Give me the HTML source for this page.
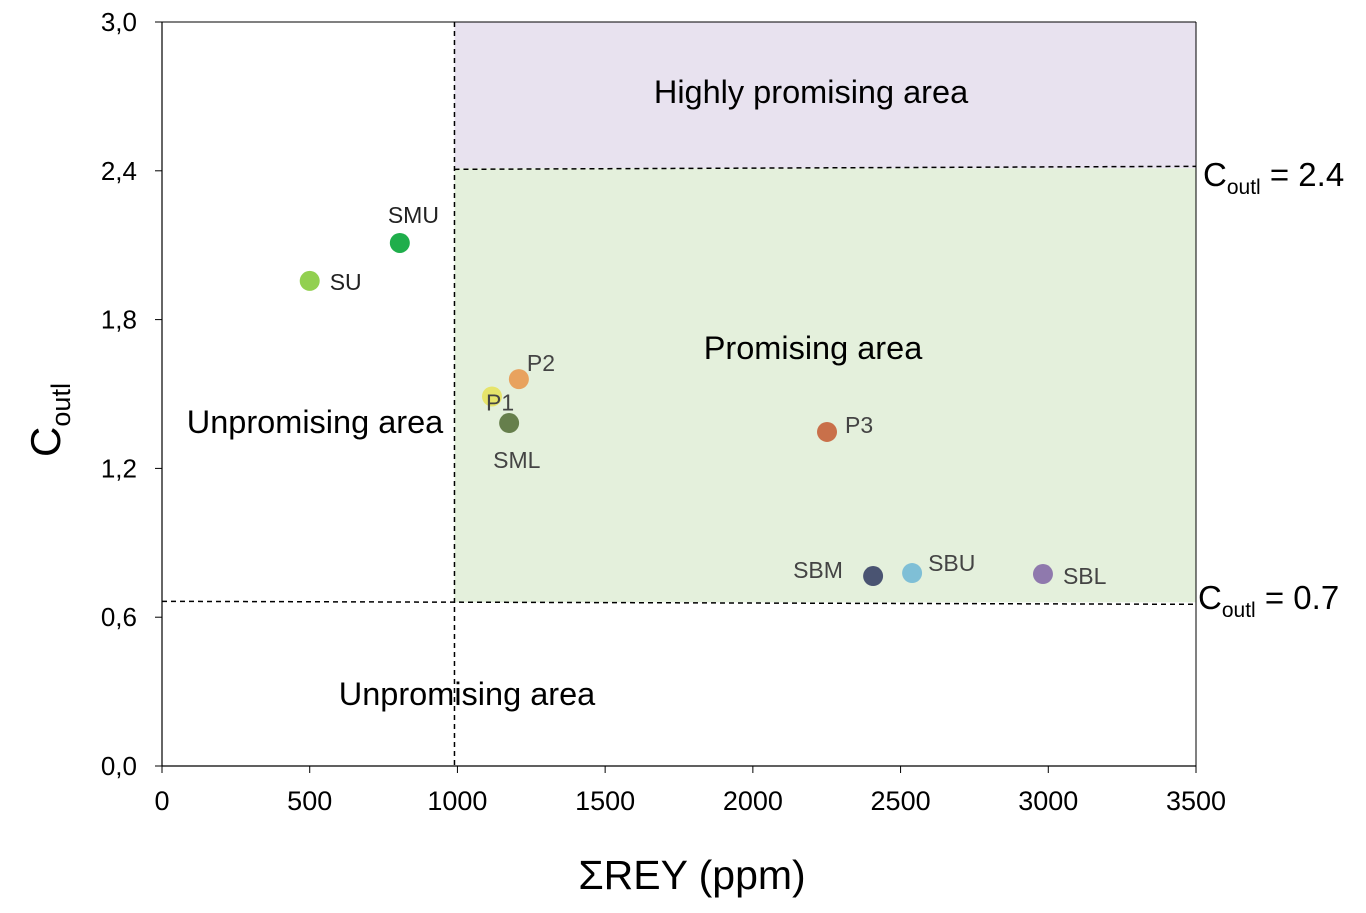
<!DOCTYPE html>
<html><head><meta charset="utf-8"><style>
body{margin:0;background:#fff;}
svg text{font-family:"Liberation Sans",Arial,sans-serif;}
</style></head><body>
<svg id="chart" width="1366" height="908" xmlns="http://www.w3.org/2000/svg"></svg>
<script>
const names=["SU","SMU","P2","P1","SML","P3","SBM","SBU","SBL"];
const reyValues=[500,805,1208,1117,1175,2251,2407,2539,2982];
const coutlValues=[1.956,2.109,1.56,1.49,1.383,1.347,0.766,0.778,0.774];
const colors=["#92d050","#1fae4b","#e8a25e","#e6e46b","#667f4c","#c9704a","#4a5472","#7fbfd6","#8f79ad"];
const labelDx=[20,-12,8,-6,-16,18,-80,16,20];
const labelDy=[9,-20,-8,14,45,1,2,-2,10];
const labelColor=["#222","#222","#444","#444","#444","#444","#444","#444","#444"];
const xTicks=[0,500,1000,1500,2000,2500,3000,3500];
const yTicks=[0,0.6,1.2,1.8,2.4,3.0];
const yTickLabels=["0,0","0,6","1,2","1,8","2,4","3,0"];
const reyThreshold=990, lowThreshold=0.66, highThreshold=2.41;
const X0=162,X1=1196,Y0=766,Y1=22;
const sx=v=>X0+(v/3500)*(X1-X0);
const sy=v=>Y0-(v/3)*(Y0-Y1);
const svg=document.getElementById('chart');
const NS="http://www.w3.org/2000/svg";
function mk(tag,attrs,parent){const e=document.createElementNS(NS,tag);for(const k in attrs)e.setAttribute(k,attrs[k]);(parent||svg).appendChild(e);return e;}
let e;
e=mk('rect',{x:sx(reyThreshold),y:Y1,width:X1-sx(reyThreshold),height:sy(highThreshold)-Y1,fill:'#e8e2ef'});


e=mk('rect',{x:sx(reyThreshold),y:sy(highThreshold),width:X1-sx(reyThreshold),height:sy(lowThreshold)-sy(highThreshold),fill:'#e4f0dc'});


e=mk('line',{x1:X0,y1:Y1,x2:X0,y2:Y0,stroke:'#000','stroke-width':1.2});


e=mk('line',{x1:X0,y1:Y0,x2:X1,y2:Y0,stroke:'#000','stroke-width':1.2});


mk('line',{x1:X0,y1:Y1,x2:X1,y2:Y1,stroke:'#000','stroke-width':1});
mk('line',{x1:X1,y1:Y1,x2:X1,y2:Y0,stroke:'#000','stroke-width':1});
xTicks.forEach(t=>{
  mk('line',{x1:sx(t),y1:Y0,x2:sx(t),y2:Y0+7,stroke:'#000'});
  e=mk('text',{x:sx(t),y:Y0+44,'text-anchor':'middle','font-size':27,fill:'#000'});e.textContent=t;
  
  
});
yTicks.forEach((t,i)=>{
  mk('line',{x1:X0-7,y1:sy(t),x2:X0,y2:sy(t),stroke:'#000'});
  e=mk('text',{x:X0-25,y:sy(t)+9,'text-anchor':'end','font-size':26,fill:'#000'});e.textContent=yTickLabels[i];
  
  
});
e=mk('line',{x1:sx(reyThreshold),y1:Y1,x2:sx(reyThreshold),y2:Y0,stroke:'#000','stroke-width':1.5,'stroke-dasharray':'5,4'});


e=mk('line',{x1:X0,y1:sy(lowThreshold)-1,x2:X1,y2:sy(lowThreshold)+2,stroke:'#000','stroke-width':1.5,'stroke-dasharray':'5,4'});


e=mk('line',{x1:sx(reyThreshold),y1:sy(highThreshold)+1,x2:X1,y2:sy(highThreshold)-2,stroke:'#000','stroke-width':1.5,'stroke-dasharray':'5,4'});


[["Highly promising area",811,103,'highly-promising-label'],["Promising area",813,359,'promising-label'],["Unpromising area",315,433,'unpromising-label-upper'],["Unpromising area",467,705,'unpromising-label-lower']].forEach(a=>{
  e=mk('text',{x:a[1],y:a[2],'text-anchor':'middle','font-size':32.5,fill:'#000'});e.textContent=a[0];
  
  
});
e=mk('text',{x:1203,y:186,'font-size':33,fill:'#000'});
e.innerHTML='C<tspan font-size="21" dy="8">outl</tspan><tspan dy="-8"> = 2.4</tspan>';


e=mk('text',{x:1198,y:609,'font-size':33,fill:'#000'});
e.innerHTML='C<tspan font-size="21" dy="8">outl</tspan><tspan dy="-8"> = 0.7</tspan>';


e=mk('text',{x:692,y:889,'text-anchor':'middle','font-size':41,fill:'#000'});e.textContent='ΣREY (ppm)';


e=mk('text',{x:0,y:0,'font-size':42,fill:'#000',transform:'translate(60,420) rotate(-90)','text-anchor':'middle'});
e.innerHTML='C<tspan font-size="27" dy="10">outl</tspan>';


names.forEach((n,i)=>{
  const cx=sx(reyValues[i]),cy=sy(coutlValues[i]);
  e=mk('circle',{cx:cx,cy:cy,r:10,fill:colors[i]});
  
  
  e=mk('text',{x:cx+labelDx[i],y:cy+labelDy[i],'font-size':23,fill:labelColor[i]});e.textContent=n;
  
  
});
</script>
</body></html>
